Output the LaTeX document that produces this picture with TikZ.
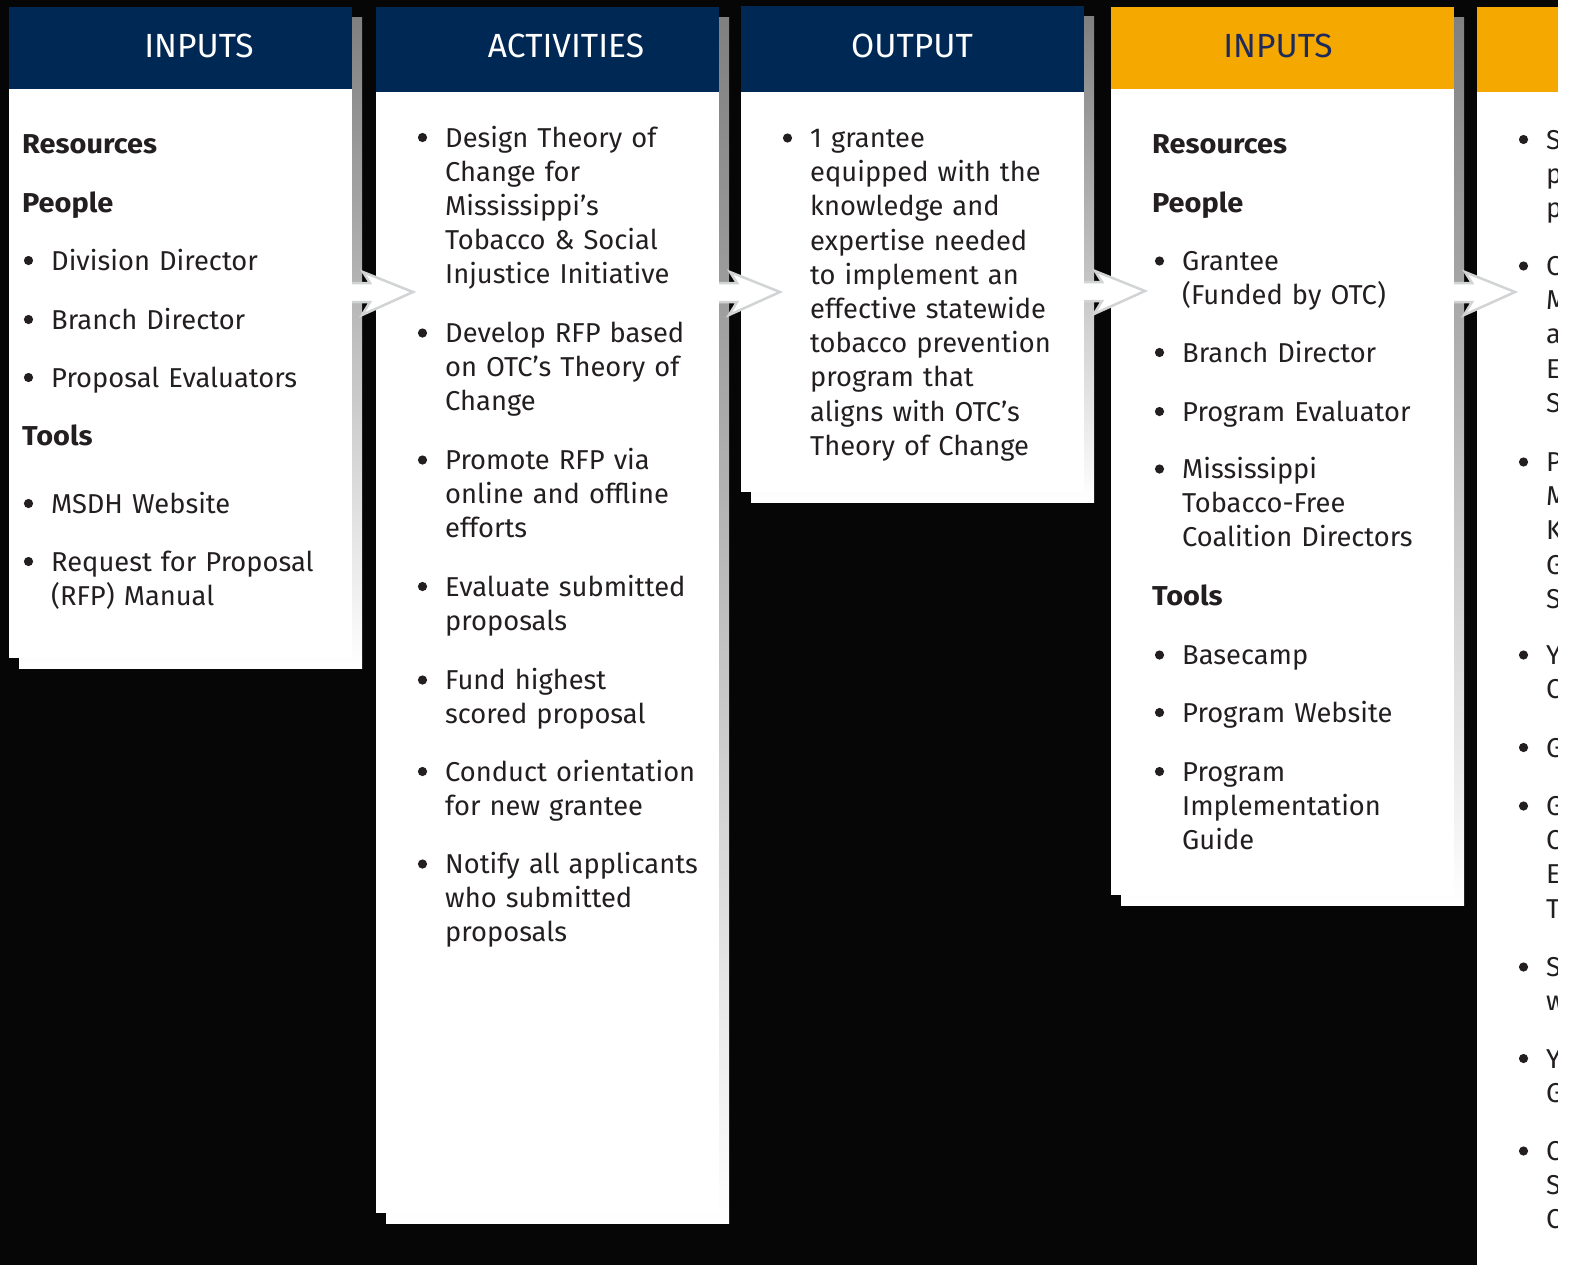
\documentclass[tikz,border=0pt]{standalone}
\usepackage{fontspec}
\setmainfont{Fira Sans}[BoldFeatures={FakeStretch=1.06}]
\usetikzlibrary{calc}

\definecolor{navy}{RGB}{0,40,85}
\definecolor{amber}{RGB}{245,168,0}
\definecolor{shade}{RGB}{209,211,212}
\definecolor{ink}{RGB}{35,31,32}
\definecolor{hdrink}{RGB}{29,42,92}
\definecolor{board}{RGB}{6,6,6}

\newcommand{\bodyfont}{\fontsize{27.3bp}{34.2bp}\selectfont}
\newcommand{\titlefont}{\fontsize{33.5bp}{36bp}\selectfont}

\tikzset{
  x=1bp, y=-1bp,
  panel/.style={fill=white, draw=none, anchor=north west, inner sep=0pt, outer sep=0pt},
  header/.style={draw=none, anchor=north west, inner sep=0pt, outer sep=0pt},
  title/.style={anchor=base, inner sep=0pt, font=\titlefont},
  heading/.style={anchor=base west, inner sep=0pt, text=ink, font=\bodyfont\bfseries},
  itemtext/.style={anchor=base west, inner sep=0pt, text=ink, text width=330bp, align=left, font=\bodyfont},
  dot/.style={fill=ink},
  flow/.style={fill=white, draw=shade, line width=2.5bp, line join=miter},
}

% a white panel with its grey drop shadow
\newcommand{\panel}[5]{%
  \fill[shade] (#2+10,#3+10) rectangle ++(#4,#5);
  \node[panel, minimum width=#4bp, minimum height=#5bp] (#1) at (#2,#3) {};}
% a bulleted entry: name, text x, first baseline, lines
\newcommand{\bitem}[4]{%
  \fill[dot] (#2-22.5,#3-9.5) circle[radius=4.6];
  \node[itemtext] (#1) at (#2,#3) {#4};}

\begin{document}
\begin{tikzpicture}
\useasboundingbox (0,0) rectangle (1577,1265);
\clip (0,0) rectangle (1577,1265);
\fill[board] (0,0) rectangle (1577,1265);

% ---- panels ----
\panel{p1}{9}{7}{343}{651}
\panel{p2}{376}{7}{343}{1206}
\panel{p3}{741}{6}{343}{486}
\panel{p4}{1111}{7}{343}{888}
\node[panel, minimum width=140bp, minimum height=1300bp] (p5) at (1477,7) {};

% ---- headers ----
\node[header, fill=navy, minimum width=343bp, minimum height=82bp] (h1) at (p1.north west) {};
\node[header, fill=navy, minimum width=343bp, minimum height=85bp] (h2) at (p2.north west) {};
\node[header, fill=navy, minimum width=343bp, minimum height=86bp] (h3) at (p3.north west) {};
\node[header, fill=amber, minimum width=343bp, minimum height=82bp] (h4) at (p4.north west) {};
\node[header, fill=amber, minimum width=140bp, minimum height=85bp] (h5) at (p5.north west) {};

\node[title, text=white] (t1) at ($(h1.north west)+(190,50)$) {INPUTS};
\node[title, text=white] (t2) at ($(h2.north west)+(190,50)$) {ACTIVITIES};
\node[title, text=white] (t3) at ($(h3.north west)+(171,51)$) {OUTPUT};
\node[title, text=hdrink] (t4) at ($(h4.north west)+(167,50)$) {INPUTS};

% ---- arrows between panels ----
\foreach \p in {p1,p2,p3,p4}{
  \draw[flow] ($(\p.north east)+(0,276)$) -- ++(18,0) -- ++(-7,-11) -- ++(50,20)
    -- ++(-51,23) -- ++(8,-13) -- ++(-18,0);
}

% ---- column 1: inputs ----
\node[heading] (r1) at (22,153) {Resources};
\node[heading] (pp1) at (22,212) {People};
\bitem{a1}{51}{270}{Division Director}
\bitem{a2}{51}{329}{Branch Director}
\bitem{a3}{51}{387}{Proposal Evaluators}
\node[heading] (tl1) at (22,445) {Tools};
\bitem{a4}{51}{513}{MSDH Website}
\bitem{a5}{51}{571}{Request for Proposal\\(RFP) Manual}

% ---- column 2: activities ----
\bitem{b1}{445}{147}{Design Theory of\\Change for\\Mississippi’s\\Tobacco \& Social\\Injustice Initiative}
\bitem{b2}{445}{342.5}{Develop RFP based\\on OTC’s Theory of\\Change}
\bitem{b3}{445}{469.5}{Promote RFP via\\online and offline\\efforts}
\bitem{b4}{445}{596}{Evaluate submitted\\proposals}
\bitem{b5}{445}{689.5}{Fund highest\\scored proposal}
\bitem{b6}{445}{781}{Conduct orientation\\for new grantee}
\bitem{b7}{445}{873.5}{Notify all applicants\\who submitted\\proposals}

% ---- column 3: output ----
\bitem{c1}{810}{147.5}{1 grantee\\equipped with the\\knowledge and\\expertise needed\\to implement an\\effective statewide\\tobacco prevention\\program that\\aligns with OTC’s\\Theory of Change}

% ---- column 4: inputs ----
\node[heading] (r4) at (1152,153) {Resources};
\node[heading] (pp4) at (1152,212) {People};
\bitem{d1}{1182}{270.5}{Grantee\\(Funded by OTC)}
\bitem{d2}{1182}{362}{Branch Director}
\bitem{d3}{1182}{421}{Program Evaluator}
\bitem{d4}{1182}{478.5}{Mississippi\\Tobacco-Free\\Coalition Directors}
\node[heading] (tl4) at (1152,605) {Tools};
\bitem{d5}{1182}{664.5}{Basecamp}
\bitem{d6}{1182}{722}{Program Website}
\bitem{d7}{1182}{781}{Program\\Implementation\\Guide}

% ---- column 5, cut off at the right edge ----
\bitem{e1}{1546}{149}{S\\p\\p}
\bitem{e2}{1546}{275.5}{C\\M\\a\\E\\S}
\bitem{e3}{1546}{471.5}{P\\M\\K\\G\\S}
\bitem{e4}{1546}{664.5}{Y\\C}
\bitem{e5}{1546}{757}{G}
\bitem{e6}{1546}{815.5}{G\\C\\E\\T}
\bitem{e7}{1546}{976.5}{S\\w}
\bitem{e8}{1546}{1068}{Y\\G}
\bitem{e9}{1546}{1160.5}{C\\S\\C}

% blank margin where the page is trimmed
\fill[white] (1558,0) rectangle (1577,1265);
\end{tikzpicture}
\end{document}
